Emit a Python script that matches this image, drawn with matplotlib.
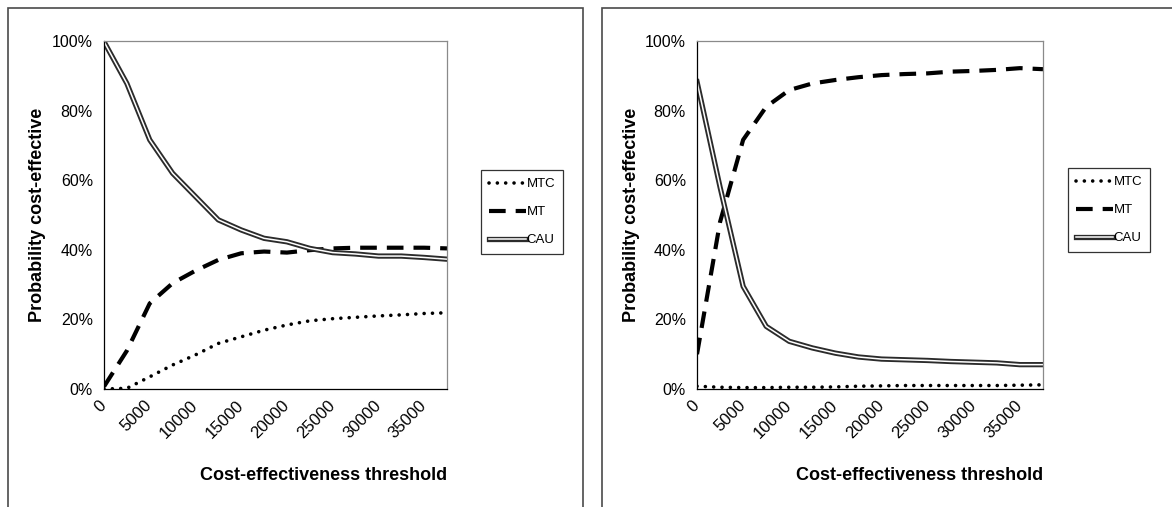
import matplotlib
matplotlib.use('Agg')
import matplotlib.pyplot as plt
import matplotlib.patheffects as pe
from matplotlib.patches import Rectangle
from matplotlib.ticker import FuncFormatter

plt.rcParams['font.family'] = ['Liberation Sans', 'DejaVu Sans']

# DATA (percent probability cost-effective per threshold category)
thresholds = [0, 2500, 5000, 7500, 10000, 12500, 15000, 17500, 20000,
              22500, 25000, 27500, 30000, 32500, 35000, 37500]
tick_values = [0, 5000, 10000, 15000, 20000, 25000, 30000, 35000]
y_ticks = [0, 20, 40, 60, 80, 100]
series_names = ['MTC', 'MT', 'CAU']

left_mtc = [0, 0.2, 3.5, 6.9, 9.8, 13.1, 15, 16.9, 18.4, 19.6, 20.2, 20.6, 21, 21.3, 21.7, 21.9]
left_mt = [0.7, 11, 24.6, 30.4, 34, 37.1, 39, 39.5, 39.2, 39.9, 40.4, 40.6, 40.6, 40.6, 40.6, 40.4]
left_cau = [99.8, 87.8, 71.6, 62, 55.3, 48.6, 45.7, 43.3, 42.3, 40.4, 39.2, 38.8, 38.2, 38.2, 37.8, 37.3]

right_mtc = [0.8, 0.5, 0.4, 0.4, 0.5, 0.5, 0.6, 0.8, 0.9, 1, 1, 1, 1, 1, 1.1, 1.2]
right_mt = [10, 48, 71.6, 81.1, 85.9, 87.8, 88.8, 89.6, 90.2, 90.5, 90.7, 91.2, 91.4, 91.7, 92.2, 91.9]
right_cau = [88.3, 58, 29.5, 18, 13.7, 11.8, 10.3, 9.2, 8.6, 8.4, 8.2, 7.9, 7.7, 7.5, 7, 7]

W, H = 1172, 507


def fx(px):
    return px / W


def fy(py):
    return 1 - py / H


def draw_panel(fig, box_left, box_right, ax_left, ax_right, leg_x, leg_y, mtc, mt, cau):
    # outer chart border (cut off at image edge)
    fig.add_artist(Rectangle((fx(box_left), -0.1), fx(box_right - box_left), fy(7.5) + 0.1,
                             transform=fig.transFigure, fill=False, edgecolor='#4a4a4a', lw=1.2))
    ax = fig.add_axes([fx(ax_left), fy(389), fx(ax_right - ax_left), fy(41) - fy(389)])
    ax.plot(thresholds, mtc, color='black', lw=2.6, linestyle=(0, (0.01, 2.3)),
            dash_capstyle='round', label=series_names[0])
    ax.plot(thresholds, mt, color='black', lw=3.0, linestyle=(0, (4, 2.4)),
            dash_capstyle='butt', label=series_names[1])
    ax.plot(thresholds, cau, color='white', lw=1.1, label=series_names[2],
            path_effects=[pe.Stroke(linewidth=3.8, foreground='#2b2b2b'), pe.Normal()])
    ax.set_xlim(thresholds[0], thresholds[-1])
    ax.set_ylim(0, 100)
    ax.set_yticks(y_ticks)
    ax.yaxis.set_major_formatter(FuncFormatter(lambda v, p: '%d%%' % v))
    ax.set_xticks(tick_values)
    ax.set_xticklabels([str(t) for t in tick_values], rotation=45, ha='right',
                       rotation_mode='anchor', va='center')
    ax.tick_params(axis='y', length=0, labelsize=11.5, colors='black', pad=8)
    ax.tick_params(axis='x', length=0, labelsize=12, colors='black', pad=10)
    for s in ['top', 'right']:
        ax.spines[s].set_color('#8a8a8a')
        ax.spines[s].set_linewidth(0.9)
    for s in ['left', 'bottom']:
        ax.spines[s].set_color('black')
        ax.spines[s].set_linewidth(0.9)
    leg = ax.legend(loc='upper left', bbox_to_anchor=(fx(leg_x), fy(leg_y)),
                    bbox_transform=fig.transFigure, fontsize=9.5, frameon=True,
                    fancybox=False, edgecolor='black', handlelength=2.8,
                    handletextpad=0.05, labelspacing=1.2, borderpad=0.6,
                    borderaxespad=0)
    leg.get_frame().set_linewidth(0.9)
    fig.text(fx(ax_right), fy(476), 'Cost-effectiveness threshold', ha='right', va='center',
             fontsize=13, fontweight='bold')
    fig.text(fx(box_left + 30), fy(215), 'Probability cost-effective', rotation=90,
             ha='center', va='center', fontsize=13, fontweight='bold')
    return ax


def create_plot():
    fig = plt.figure(figsize=(W / 100, H / 100), dpi=100)
    draw_panel(fig, 7.5, 583, 104, 447, 481, 170, left_mtc, left_mt, left_cau)
    draw_panel(fig, 602, 1200, 697, 1043, 1068, 168, right_mtc, right_mt, right_cau)
    fig.savefig('out.png', dpi=100)


if __name__ == '__main__':
    create_plot()
